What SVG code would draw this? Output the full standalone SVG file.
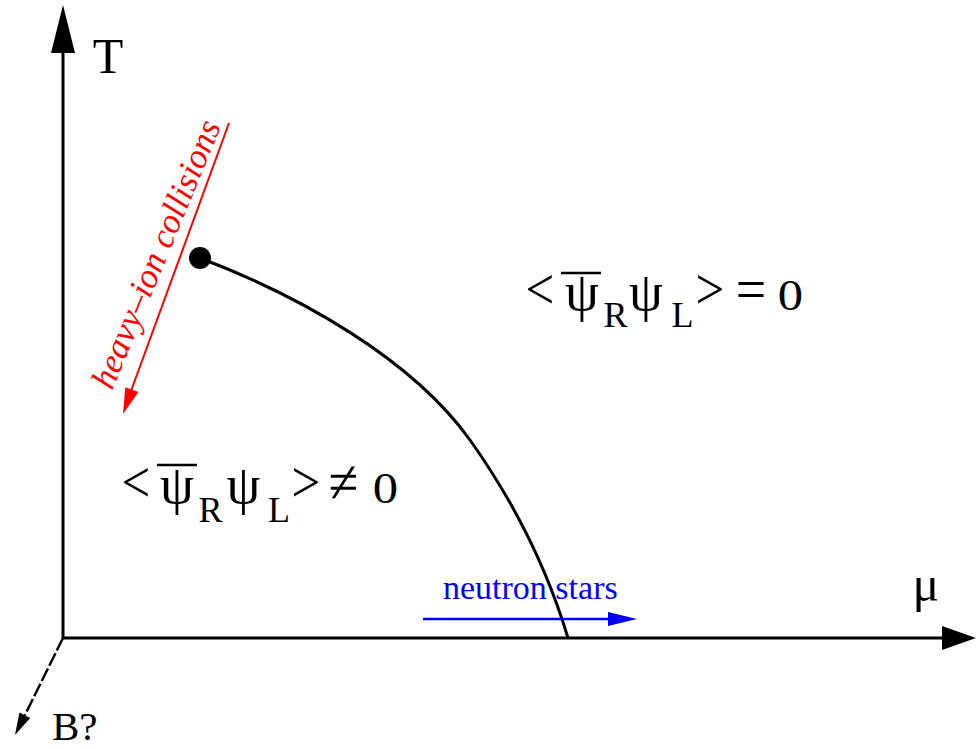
<svg xmlns="http://www.w3.org/2000/svg" width="977" height="749" viewBox="0 0 977 749">
<style>
  .ax { stroke:#000; stroke-width:3; fill:none; }
  .lbl { font-family:"Liberation Serif","Times New Roman",serif; fill:#000; }
  .sym { font-family:"Liberation Serif","Times New Roman",serif; fill:#000; font-size:60px; text-anchor:middle; }
  .psi { font-family:"Liberation Serif","Times New Roman",serif; fill:#000; font-size:54px; text-anchor:middle; }
  .sub { font-family:"Liberation Serif","Times New Roman",serif; fill:#000; font-size:36px; text-anchor:middle; }
  .num { font-family:"Liberation Serif","Times New Roman",serif; fill:#000; font-size:44px; text-anchor:middle; }
  .bar { stroke:#000; stroke-width:2.5; }
</style>
<rect width="977" height="749" fill="#fff"/>

<g id="axes">
  <line class="ax" x1="63" y1="638" x2="63" y2="50"/>
  <polygon points="63,5 75,53 51,53" fill="#000"/>
  <line class="ax" x1="63" y1="638" x2="945" y2="638"/>
  <polygon points="976,638 942,626 942,650" fill="#000"/>
  <line x1="63" y1="638" x2="24.8" y2="715.3" stroke="#000" stroke-width="2.5" stroke-dasharray="14 3"/>
  <polygon points="15,735 30.2,718 19.4,712.6" fill="#000"/>
</g>

<g id="label-T"><text class="lbl" x="108" y="73" font-size="50" text-anchor="middle">T</text></g>
<g id="label-mu"><text class="lbl" x="926" y="601" font-size="50" text-anchor="middle">μ</text></g>
<g id="label-B"><text class="lbl" x="52" y="740" font-size="41">B?</text></g>

<g id="connectors">
  <path id="phase-boundary" class="ax" d="M200,258 C300,296 412,359 470,440 C514,502 547,568 568,638"/>
</g>
<g id="critical-point"><circle cx="200" cy="258" r="11" fill="#000"/></g>

<g id="heavy-ion">
  <line x1="229" y1="123" x2="131" y2="391" stroke="#ff0000" stroke-width="2"/>
  <polygon points="123,414 138.5,392 125.3,387.2" fill="#ff0000"/>
  <text transform="translate(112,391) rotate(-67.6)" font-family="Liberation Serif, Times New Roman, serif" font-style="italic" font-size="35" fill="#ff0000">heavy–ion collisions</text>
</g>

<g id="neutron-stars">
  <line x1="423" y1="619" x2="610" y2="619" stroke="#0000ff" stroke-width="2.5"/>
  <polygon points="637,619 608,612 608,626" fill="#0000ff"/>
  <text x="443" y="599" font-family="Liberation Serif, Times New Roman, serif" font-size="34" fill="#0000ff">neutron stars</text>
</g>

<g id="formula-zero">
  <text class="sym" transform="translate(540,309) scale(0.85,1)">&lt;</text>
  <text class="psi" x="582" y="310">ψ</text>
  <line class="bar" x1="561" y1="273" x2="601" y2="273"/>
  <text class="sub" x="615.5" y="327">R</text>
  <text class="psi" x="646" y="310">ψ</text>
  <text class="sub" x="682.5" y="327">L</text>
  <text class="sym" transform="translate(710,309) scale(0.85,1)">&gt;</text>
  <text class="sym" transform="translate(751,309) scale(0.9,1)">=</text>
  <text class="num" transform="translate(790.5,310) scale(1.15,1)">0</text>
</g>

<g id="formula-nonzero">
  <text class="sym" transform="translate(136,502) scale(0.85,1)">&lt;</text>
  <text class="psi" x="177" y="503">ψ</text>
  <line class="bar" x1="157" y1="465" x2="197" y2="465"/>
  <text class="sub" x="210.5" y="522">R</text>
  <text class="psi" x="243.5" y="503">ψ</text>
  <text class="sub" x="279" y="522">L</text>
  <text class="sym" transform="translate(306,502) scale(0.85,1)">&gt;</text>
  <text class="sym" transform="translate(343.5,502) scale(0.9,1)">≠</text>
  <text class="num" transform="translate(385.5,503) scale(1.15,1)">0</text>
</g>
</svg>
